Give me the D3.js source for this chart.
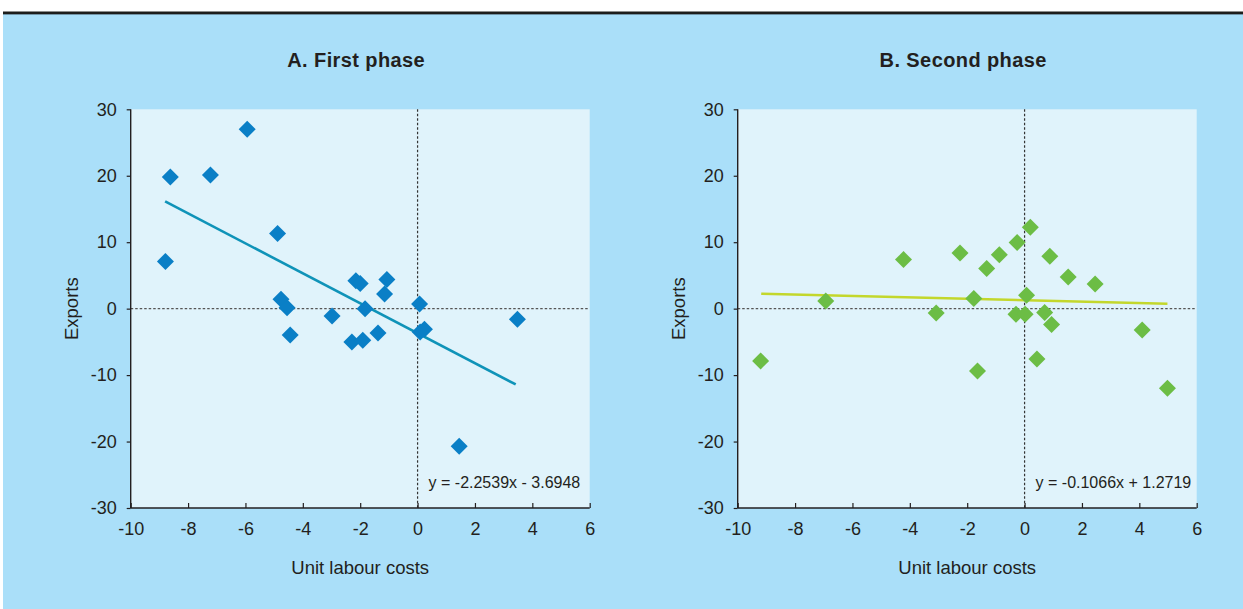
<!DOCTYPE html>
<html>
<head>
<meta charset="utf-8">
<script src="https://cdn.jsdelivr.net/npm/d3@7"></script>
<style>
  body { margin: 0; background: #fff; }
  text { font-family: "Liberation Sans", Arial, sans-serif; fill: #231f20; }
</style>
</head>
<body>
<div class="bigboard"></div>
<script>
// panel A: first phase
var phaseAx = [-8.79, -8.62, -7.22, -5.94, -4.88, -4.76, -4.55, -4.44, -2.98, -2.29, -2.15, -2.0,
               -1.91, -1.83, -1.38, -1.15, -1.07, 0.07, 0.09, 0.24, 1.45, 3.48];
var phaseAy = [7.1, 19.8, 20.1, 27.0, 11.3, 1.4, 0.15, -3.95, -1.1, -5.0, 4.2, 3.8,
               -4.75, 0.0, -3.65, 2.2, 4.4, 0.7, -3.5, -3.1, -20.7, -1.6];
// panel B: second phase
var phaseBx = [-9.2, -6.93, -4.22, -3.08, -2.25, -1.32, -0.88, -1.77, -1.64, -0.26, 0.2, 0.88,
               1.52, 2.46, 0.07, -0.3, 0.02, 0.7, 0.94, 0.43, 4.1, 4.98];
var phaseBy = [-7.86, 1.16, 7.38, -0.64, 8.37, 6.03, 8.13, 1.52, -9.37, 9.94, 12.24, 7.88,
               4.77, 3.71, 2.0, -0.84, -0.84, -0.59, -2.4, -7.56, -3.2, -11.97];

var xTicks = [-10, -8, -6, -4, -2, 0, 2, 4, 6];
var yTicks = [-30, -20, -10, 0, 10, 20, 30];

var panels = [
  { title: "A. First phase", xs: phaseAx, ys: phaseAy, slope: -2.2539, icpt: -3.6948,
    fit: [-8.8, 3.42], eq: "y = -2.2539x - 3.6948",
    left: 130.7, marker: "#0a7fc6", line: "#0f93b8" },
  { title: "B. Second phase", xs: phaseBx, ys: phaseBy, slope: -0.1066, icpt: 1.2719,
    fit: [-9.18, 4.98], eq: "y = -0.1066x + 1.2719",
    left: 737.7, marker: "#6cbd45", line: "#c3d72c" }
];

var W = 1243, H = 609;
var plotW = 459, plotTop = 109.3, plotBot = 508;

var svg = d3.select('.bigboard').append('svg')
  .attr('width', W)
  .attr('height', H);

// outer frame
svg.append('rect')
  .attr('x', 3).attr('y', 13)
  .attr('width', W - 3).attr('height', H - 13)
  .attr('fill', '#aadff9');
svg.append('rect')
  .attr('x', 3).attr('y', 11.5)
  .attr('width', W - 3).attr('height', 2.6)
  .attr('fill', '#1d1d1b');
svg.append('rect')
  .attr('x', 3).attr('y', 14.1)
  .attr('width', W - 3).attr('height', 0.9)
  .attr('fill', '#6f8ea0');

var diamond = "M0,-8.5L8.5,0L0,8.5L-8.5,0Z";
// plain hyphen for negatives, like the original
var fmt = function(d){ return d < 0 ? '-' + Math.abs(d) : '' + d };

panels.forEach(function(p){
  var x = d3.scaleLinear().domain([-10, 6]).range([p.left, p.left + plotW]);
  var y = d3.scaleLinear().domain([-30, 30]).range([plotBot, plotTop]);
  var g = svg.append('g');

  g.append('rect')
    .attr('x', x(-10)).attr('y', y(30))
    .attr('width', x(6) - x(-10)).attr('height', y(-30) - y(30))
    .attr('fill', '#e0f3fb');

  // zero lines
  g.append('line')
    .attr('x1', x(-10)).attr('x2', x(6))
    .attr('y1', y(0)).attr('y2', y(0))
    .attr('stroke', '#555').attr('stroke-width', 1.2)
    .attr('stroke-dasharray', '2.5,2');
  g.append('line')
    .attr('x1', x(0)).attr('x2', x(0))
    .attr('y1', y(30)).attr('y2', y(-30))
    .attr('stroke', '#333').attr('stroke-width', 1.2)
    .attr('stroke-dasharray', '2.5,2');

  // axes
  var xAxis = g.append('g')
    .attr('transform', 'translate(0,' + y(-30) + ')')
    .call(d3.axisBottom(x).tickValues(xTicks).tickSize(-5).tickPadding(12)
      .tickFormat(fmt));
  var yAxis = g.append('g')
    .attr('transform', 'translate(' + x(-10) + ',0)')
    .call(d3.axisLeft(y).tickValues(yTicks).tickSize(4).tickPadding(10)
      .tickFormat(fmt));
  [xAxis, yAxis].forEach(function(a){
    a.select('.domain').attr('stroke', '#231f20').attr('stroke-width', 1.4);
    a.selectAll('.tick line').attr('stroke', '#231f20').attr('stroke-width', 1.2);
    a.selectAll('.tick text')
      .attr('font-size', '18px')
      .attr('font-family', '"Liberation Sans", Arial, sans-serif')
      .attr('fill', '#231f20');
  });
  xAxis.selectAll('.tick text').attr('dy', '0.82em');
  xAxis.select('.domain').attr('d', 'M' + x(-10) + ',0H' + x(6));
  yAxis.select('.domain').attr('d', 'M0,' + y(30) + 'V' + y(-30));

  // regression line
  g.append('line')
    .attr('x1', x(p.fit[0])).attr('y1', y(p.slope * p.fit[0] + p.icpt))
    .attr('x2', x(p.fit[1])).attr('y2', y(p.slope * p.fit[1] + p.icpt))
    .attr('stroke', p.line).attr('stroke-width', 2.6);

  // points
  g.selectAll('.pt')
    .data(d3.range(p.xs.length)).enter().append('path')
    .attr('class', 'pt')
    .attr('d', diamond)
    .attr('transform', function(i){ return 'translate(' + x(p.xs[i]) + ',' + y(p.ys[i]) + ')' })
    .attr('fill', p.marker);

  g.append('text')
    .attr('x', x(0) + 11).attr('y', y(-27))
    .attr('font-size', '16px')
    .text(p.eq);

  // titles and labels
  g.append('text')
    .attr('x', (x(-10) + x(6)) / 2 - 4).attr('y', 67)
    .attr('text-anchor', 'middle')
    .attr('font-size', '20px').attr('font-weight', 'bold')
    .attr('letter-spacing', '0.4px')
    .text(p.title);
  g.append('text')
    .attr('x', (x(-10) + x(6)) / 2).attr('y', 574)
    .attr('text-anchor', 'middle')
    .attr('font-size', '18.5px')
    .text('Unit labour costs');
  g.append('text')
    .attr('transform', 'translate(' + (x(-10) - 53) + ',' + y(0) + ') rotate(-90)')
    .attr('text-anchor', 'middle')
    .attr('font-size', '18.5px')
    .text('Exports');
});
</script>
</body>
</html>
